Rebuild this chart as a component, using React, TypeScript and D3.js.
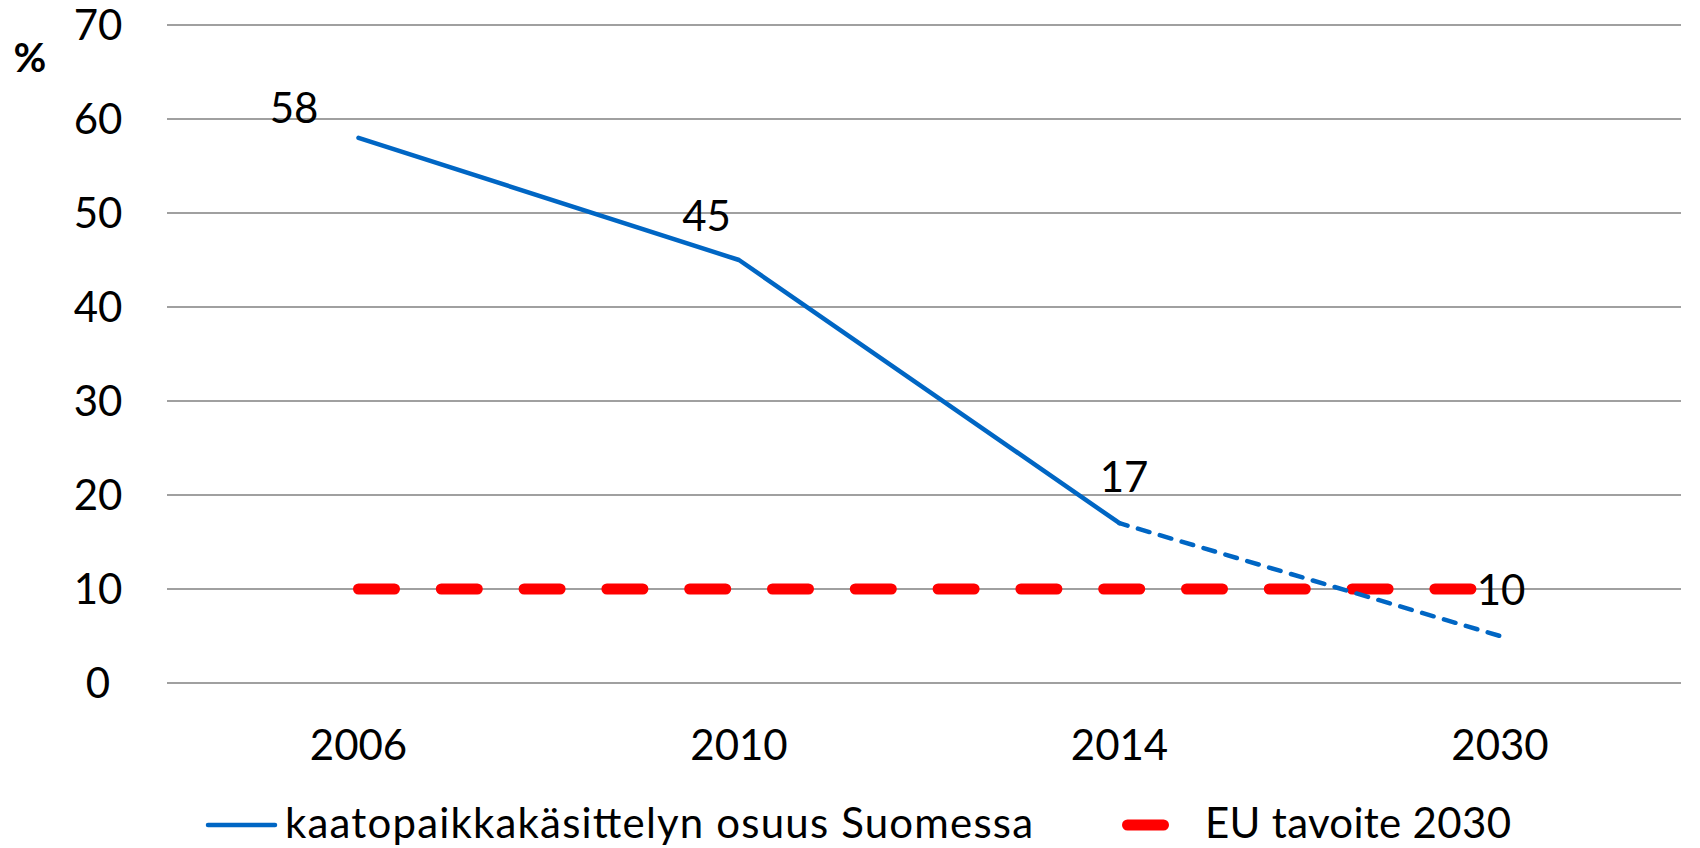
import React, { useEffect, useRef } from 'react';
import * as d3 from 'd3';

const years = ['2006', '2010', '2014', '2030'];
const landfillShare = [58, 45, 17, 5];
const euTarget = [10, 10, 10, 10];
const yTicks = [0, 10, 20, 30, 40, 50, 60, 70];
const seriesNames = ['kaatopaikkakäsittelyn osuus Suomessa', 'EU tavoite 2030'];

const W = 1700;
const H = 848;
const FONT = 'Lato, Calibri, sans-serif';
const BLUE = '#0066c4';
const RED = '#ff0000';

const App: React.FC = () => {
  const ref = useRef<SVGSVGElement | null>(null);

  useEffect(() => {
    if (!ref.current) return;
    const svg = d3.select(ref.current);
    svg.selectAll('*').remove();

    const gridLeft = 167;
    const gridRight = 1681;
    const x = d3.scaleBand<string>().domain(years).range([168.25, 1690.25]).padding(0);
    const cx = (d: string) => (x(d) as number) + x.bandwidth() / 2;
    const y = d3.scaleLinear().domain([0, 70]).range([683, 25]);

    // gridlines
    svg
      .append('g')
      .selectAll('line')
      .data(yTicks)
      .enter()
      .append('line')
      .attr('x1', gridLeft)
      .attr('x2', gridRight)
      .attr('y1', (d) => y(d))
      .attr('y2', (d) => y(d))
      .attr('stroke', '#a0a0a0')
      .attr('stroke-width', 2);

    // y tick labels
    svg
      .append('g')
      .selectAll('text')
      .data(yTicks)
      .enter()
      .append('text')
      .attr('x', 98)
      .attr('y', (d) => y(d))
      .attr('dy', '0.36em')
      .attr('text-anchor', 'middle')
      .attr('font-family', FONT)
      .attr('font-size', 42)
      .text((d) => d);

    svg
      .append('text')
      .attr('x', 30)
      .attr('y', 58)
      .attr('dy', '0.36em')
      .attr('text-anchor', 'middle')
      .attr('font-family', FONT)
      .attr('font-weight', 'bold')
      .attr('font-size', 40)
      .text('%');

    // x labels
    svg
      .append('g')
      .selectAll('text')
      .data(years)
      .enter()
      .append('text')
      .attr('x', (d) => cx(d))
      .attr('y', 745)
      .attr('dy', '0.36em')
      .attr('text-anchor', 'middle')
      .attr('font-family', FONT)
      .attr('font-size', 42)
      .text((d) => d);

    const pts = years.map((d, i) => ({ year: d, v: landfillShare[i] }));
    const line = d3
      .line<{ year: string; v: number }>()
      .x((d) => cx(d.year))
      .y((d) => y(d.v));

    // EU target
    svg
      .append('path')
      .attr('d', d3.line<number>().x((_, i) => cx(years[i])).y((d) => y(d))(euTarget) as string)
      .attr('fill', 'none')
      .attr('stroke', RED)
      .attr('stroke-width', 11)
      .attr('stroke-linecap', 'round')
      .attr('stroke-dasharray', '36 46.8');

    // measured share (solid) and projection (dashed)
    svg
      .append('path')
      .attr('d', line(pts.slice(0, 3)) as string)
      .attr('fill', 'none')
      .attr('stroke', BLUE)
      .attr('stroke-width', 4.5)
      .attr('stroke-linejoin', 'round')
      .attr('stroke-linecap', 'round');

    svg
      .append('path')
      .attr('d', line(pts.slice(2)) as string)
      .attr('fill', 'none')
      .attr('stroke', BLUE)
      .attr('stroke-width', 4.5)
      .attr('stroke-linecap', 'round')
      .attr('stroke-dasharray', '12 10.8')
      .attr('stroke-dashoffset', 3.6);

    // data labels
    const labelOffsets = [
      [-64.5, -30],
      [-32.5, -44],
      [4.5, -46],
    ];
    svg
      .append('g')
      .selectAll('text')
      .data(pts.slice(0, 3))
      .enter()
      .append('text')
      .attr('x', (d, i) => cx(d.year) + labelOffsets[i][0])
      .attr('y', (d, i) => y(d.v) + labelOffsets[i][1])
      .attr('dy', '0.36em')
      .attr('text-anchor', 'middle')
      .attr('font-family', FONT)
      .attr('font-size', 42)
      .text((d) => d.v);

    svg
      .append('text')
      .attr('x', cx(years[3]) + 1)
      .attr('y', y(euTarget[3]) + 1)
      .attr('dy', '0.36em')
      .attr('text-anchor', 'middle')
      .attr('font-family', FONT)
      .attr('font-size', 42)
      .text(euTarget[3]);

    // legend
    const lg = svg.append('g');
    lg.append('line')
      .attr('x1', 208)
      .attr('x2', 275)
      .attr('y1', 825)
      .attr('y2', 825)
      .attr('stroke', BLUE)
      .attr('stroke-width', 4.5)
      .attr('stroke-linecap', 'round');
    lg.append('text')
      .attr('x', 285)
      .attr('y', 838)
      .attr('font-family', FONT)
      .attr('font-size', 42)
      .attr('textLength', 748)
      .attr('lengthAdjust', 'spacing')
      .text(seriesNames[0]);
    lg.append('line')
      .attr('x1', 1127.5)
      .attr('x2', 1163.5)
      .attr('y1', 825)
      .attr('y2', 825)
      .attr('stroke', RED)
      .attr('stroke-width', 11)
      .attr('stroke-linecap', 'round');
    lg.append('text')
      .attr('x', 1205)
      .attr('y', 838)
      .attr('font-family', FONT)
      .attr('font-size', 42)
      .attr('textLength', 306)
      .attr('lengthAdjust', 'spacing')
      .text(seriesNames[1]);
  }, []);

  return (
    <svg
      ref={ref}
      width={W}
      height={H}
      style={{ position: 'absolute', left: 0, top: 0, background: '#fff' }}
    />
  );
};

export default App;
